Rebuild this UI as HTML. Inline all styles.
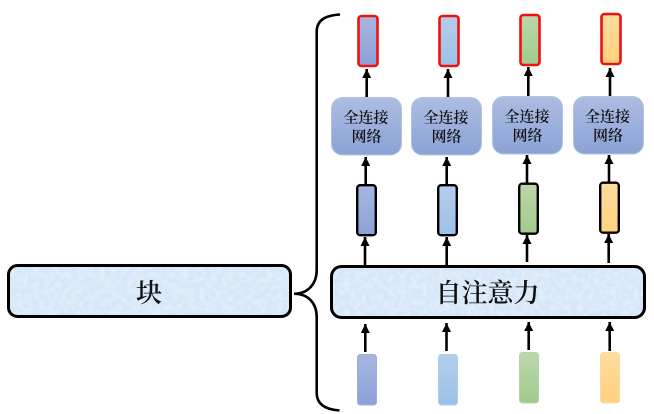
<!DOCTYPE html>
<html>
<head>
<meta charset="utf-8">
<style>
html,body{margin:0;padding:0;background:#fff;width:654px;height:414px;overflow:hidden}
svg{display:block}
text{font-family:"Liberation Serif","Noto Serif CJK SC",serif;fill:#111;text-anchor:middle}
</style>
</head>
<body>
<svg width="654" height="414" viewBox="0 0 654 414" xmlns="http://www.w3.org/2000/svg">
<defs>
<linearGradient id="b1" x1="0" y1="0" x2="0" y2="1"><stop offset="0" stop-color="#a8b6de"/><stop offset="1" stop-color="#8aa2d9"/></linearGradient>
<linearGradient id="b2" x1="0" y1="0" x2="0" y2="1"><stop offset="0" stop-color="#b4cdea"/><stop offset="1" stop-color="#9cc1e7"/></linearGradient>
<linearGradient id="b3" x1="0" y1="0" x2="0" y2="1"><stop offset="0" stop-color="#bcd6ac"/><stop offset="1" stop-color="#a0cc8c"/></linearGradient>
<linearGradient id="b4" x1="0" y1="0" x2="0" y2="1"><stop offset="0" stop-color="#ffdc9e"/><stop offset="1" stop-color="#ffd17e"/></linearGradient>
<linearGradient id="fc" x1="0" y1="0" x2="0" y2="1"><stop offset="0" stop-color="#adbde2"/><stop offset="1" stop-color="#8ba2d6"/></linearGradient>
<filter id="tex" x="0" y="0" width="100%" height="100%">
<feTurbulence type="fractalNoise" baseFrequency="0.18" numOctaves="3" seed="4" result="n"/>
<feColorMatrix in="n" type="matrix" values="0 0 0 0 0.78  0 0 0 0 0.87  0 0 0 0 0.97  1.8 0 0 0 -0.6"/>
<feComposite in2="SourceAlpha" operator="in" result="t"/>
<feMerge><feMergeNode in="SourceGraphic"/><feMergeNode in="t"/></feMerge>
</filter>
<marker id="ah" markerUnits="userSpaceOnUse" markerWidth="10" markerHeight="9" refX="9" refY="4.5" orient="auto"><path d="M0 0L9 4.5L0 9Z" fill="#000"/></marker>
</defs>

<!-- top outputs -->
<g stroke="#f01010" stroke-width="2.6">
<rect x="358.5" y="16" width="19" height="50" rx="3" fill="url(#b1)"/>
<rect x="439.5" y="16" width="19" height="50" rx="3" fill="url(#b2)"/>
<rect x="520.5" y="15" width="19" height="50" rx="3" fill="url(#b3)"/>
<rect x="601.5" y="14" width="19" height="50" rx="3" fill="url(#b4)"/>
</g>

<!-- FC boxes -->
<g fill="url(#fc)" stroke="#b4c3e4" stroke-width="1">
<rect x="331.5" y="97.5" width="70" height="57.5" rx="11"/>
<rect x="411.5" y="97.5" width="70" height="57.5" rx="11"/>
<rect x="492.5" y="96.5" width="70" height="57.5" rx="11"/>
<rect x="573.5" y="96.5" width="70" height="57.5" rx="11"/>
</g>
<g font-size="15" font-weight="600">
<text x="366" y="122.5">全连接</text><text x="366.5" y="141.5">网络</text>
<text x="446" y="122.5">全连接</text><text x="446.5" y="141.5">网络</text>
<text x="527" y="121.5">全连接</text><text x="527.5" y="140.5">网络</text>
<text x="607.5" y="121.5">全连接</text><text x="608" y="140.5">网络</text>
</g>

<!-- middle boxes -->
<g stroke="#000" stroke-width="2.4">
<rect x="357.2" y="185.2" width="18.6" height="50" rx="3" fill="url(#b1)"/>
<rect x="438.2" y="185.2" width="18.6" height="50" rx="3" fill="url(#b2)"/>
<rect x="519.2" y="183.7" width="18.6" height="50" rx="3" fill="url(#b3)"/>
<rect x="600.2" y="182.7" width="18.6" height="50" rx="3" fill="url(#b4)"/>
</g>

<!-- big boxes -->
<g fill="#d6e6f8">
<rect x="8.5" y="265.5" width="282" height="51" rx="9" filter="url(#tex)"/>
<rect x="331.5" y="266.5" width="313" height="51" rx="10" filter="url(#tex)"/>
</g>
<rect x="8.5" y="265.5" width="282" height="51" rx="9" fill="none" stroke="#000" stroke-width="3"/>
<rect x="331.5" y="266.5" width="313" height="51" rx="10" fill="none" stroke="#000" stroke-width="3"/>
<text x="149" y="302" font-size="26" font-weight="600">块</text>
<text x="487.5" y="302" font-size="26" font-weight="600">自注意力</text>

<!-- bottom inputs -->
<g stroke-width="1">
<rect x="357.5" y="354.5" width="19" height="50.5" rx="3" fill="url(#b1)" stroke="#9db0dc"/>
<rect x="438.5" y="354.5" width="19" height="50.5" rx="3" fill="url(#b2)" stroke="#b0cdea"/>
<rect x="519.5" y="352.5" width="19" height="50.5" rx="3" fill="url(#b3)" stroke="#b8d4a8"/>
<rect x="600.5" y="352.5" width="19" height="50.5" rx="3" fill="url(#b4)" stroke="#f4dca8"/>
</g>

<!-- arrows -->
<g stroke="#000" stroke-width="2.6" fill="none" marker-end="url(#ah)">
<path d="M366.7 97V69"/><path d="M448 97V69"/><path d="M528.3 96V67"/><path d="M610 96V68"/>
<path d="M365.7 185V157"/><path d="M446.7 185V157"/><path d="M527 183V155"/><path d="M609 182V155"/>
<path d="M365 265V237"/><path d="M446.7 265V237"/><path d="M527 262V235"/><path d="M608.7 263V234"/>
<path d="M365.3 352V324"/><path d="M446.5 351V323"/><path d="M528.7 350V322"/><path d="M609.7 351V322"/>
</g>

<!-- brace -->
<path d="M340 14.5C325 15.5 316.7 20 316.7 32V270C316.7 284 308 293.7 294 293.7C308 293.7 316.7 303 316.7 317V393C316.7 404 325 409.5 339.5 410.5" fill="none" stroke="#000" stroke-width="2.6"/>
</svg>
</body>
</html>
